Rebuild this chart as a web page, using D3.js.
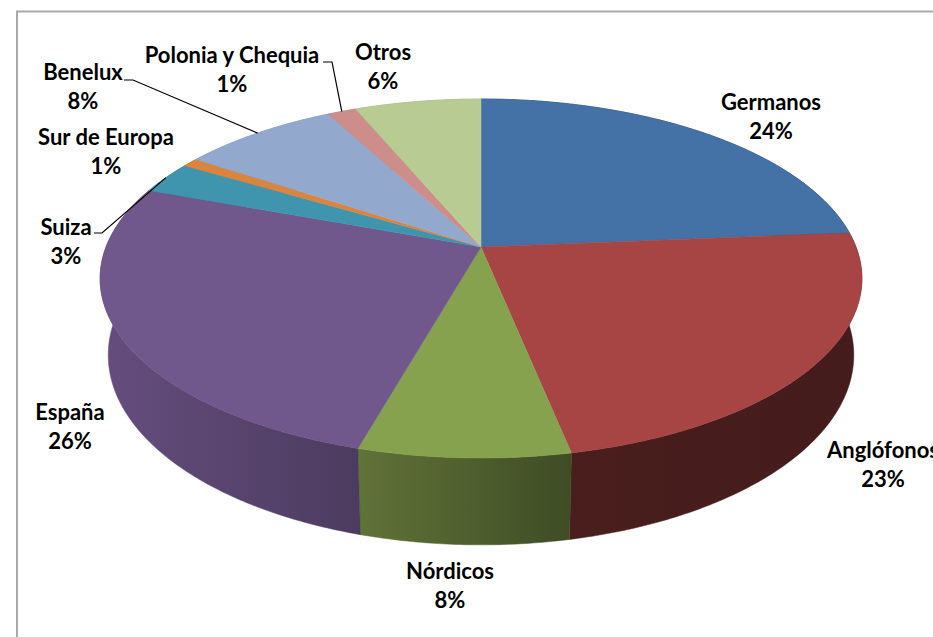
<!DOCTYPE html>
<html>
<head>
<meta charset="utf-8">
<style>
  html, body { margin: 0; padding: 0; background: #fff; overflow: hidden; }
  text { font-family: Lato, "Open Sans", sans-serif; font-weight: 700; fill: #000; }
</style>
<script src="https://cdn.jsdelivr.net/npm/d3@7"></script>
</head>
<body>
<svg id="chart" width="933" height="637"></svg>
<script>
// values (slices do not quite match the rounded labels)
const categories = ['Germanos', 'Anglófonos', 'Nórdicos', 'España', 'Suiza', 'Sur de Europa', 'Benelux', 'Polonia y Chequia', 'Otros'];
const shares = [23.7, 23.1, 7.6, 26.2, 2.9, 0.8, 7.9, 1.45, 6.35];
const colors = ['#4471a6', '#a64543', '#87a24f', '#70578c', '#3f95ae', '#db843d', '#92a8cd', '#cd8d8b', '#b8cb92'];
// wall shading, left and right end of each slice, as a factor of the top colour
const wallShade = [[0.45, 0.42], [0.44, 0.41], [0.71, 0.47], [0.9, 0.68], [0.8, 0.8], [0.8, 0.8], [0.8, 0.8], [0.8, 0.8], [0.8, 0.8]];
// label centres and, where the label has one, the knee of the leader line
const labelPos = [[771, 102], [883, 450], [450, 571], [70, 412], [66, 227], [106, 137], [83, 72], [232, 55], [383, 52]];
const leaderStart = [null, null, null, null, [94, 233, 102], null, [124, 80, 133], [323, 62, 332], null];

const svg = d3.select('#chart');
const defs = svg.append('defs');

// frame: only the top and left edges are inside the window
svg.append('path')
  .attr('d', 'M17,637V11.5H933')
  .attr('fill', 'none')
  .attr('stroke', '#a9a9a9')
  .attr('stroke-width', 2);

const pie = d3.pie().sort(null).value((d) => d);
const arcs = pie(shares);

// perspective: tilted disc, back edge foreshortened
const persp = 0.1755;
const topFace = { cx: 481, cy: 247, rx: 375, ry: 174 };
const bottomFace = { cx: 481, cy: 321.7, rx: 367, ry: 184 };

function project(face, angle) {
  const u = Math.sin(angle);
  const v = Math.cos(angle);
  const w = 1 + persp * v;
  return [face.cx + face.rx * u / w, face.cy - face.ry * v / w];
}

function arcPoints(face, a0, a1) {
  const n = Math.max(2, Math.ceil((a1 - a0) / 0.01));
  return d3.range(n + 1).map((i) => project(face, a0 + (a1 - a0) * i / n));
}

const line = d3.line();

function shade(color, f) {
  const c = d3.rgb(color);
  return d3.rgb(c.r * f, c.g * f, c.b * f).formatHex();
}

// side walls, the top face covers the ones at the back
const walls = svg.append('g');
arcs.forEach((d, i) => {
  const upper = arcPoints(topFace, d.startAngle, d.endAngle);
  const lower = arcPoints(bottomFace, d.startAngle, d.endAngle);
  const xs = upper.concat(lower).map((p) => p[0]);
  const id = `wall${i}`;
  const grad = defs.append('linearGradient')
    .attr('id', id)
    .attr('gradientUnits', 'userSpaceOnUse')
    .attr('x1', d3.min(xs))
    .attr('x2', d3.max(xs))
    .attr('y1', 0)
    .attr('y2', 0);
  grad.append('stop').attr('offset', 0).attr('stop-color', shade(colors[i], wallShade[i][0]));
  grad.append('stop').attr('offset', 1).attr('stop-color', shade(colors[i], wallShade[i][1]));
  walls.append('path')
    .attr('d', `${line(upper.concat(lower.reverse()))}Z`)
    .attr('fill', `url(#${id})`)
    .attr('stroke', `url(#${id})`)
    .attr('stroke-width', 0.5);
});

// top face
svg.append('g')
  .selectAll('path')
  .data(arcs)
  .join('path')
    .attr('d', (d) => `${line([[topFace.cx, topFace.cy]].concat(arcPoints(topFace, d.startAngle, d.endAngle)))}Z`)
    .attr('fill', (d, i) => colors[i])
    .attr('stroke', (d, i) => colors[i])
    .attr('stroke-width', 0.5);

// leader lines end at the middle of the slice's outer edge
svg.append('g')
  .selectAll('path')
  .data(arcs.filter((d) => leaderStart[d.index]))
  .join('path')
    .attr('d', (d) => {
      const [x0, y0, x1] = leaderStart[d.index];
      return line([[x0, y0], [x1, y0], project(topFace, (d.startAngle + d.endAngle) / 2)]);
    })
    .attr('fill', 'none')
    .attr('stroke', '#000')
    .attr('stroke-width', 1.2);

const labels = svg.append('g')
  .selectAll('text')
  .data(arcs)
  .join('text')
    .attr('text-anchor', 'middle')
    .attr('font-size', 22);
labels.append('tspan')
  .attr('x', (d) => labelPos[d.index][0])
  .attr('y', (d) => labelPos[d.index][1] + 8)
  .text((d) => categories[d.index]);
labels.append('tspan')
  .attr('x', (d) => labelPos[d.index][0])
  .attr('y', (d) => labelPos[d.index][1] + 37)
  .text((d) => `${Math.round(d.value)}%`);
</script>
</body>
</html>
